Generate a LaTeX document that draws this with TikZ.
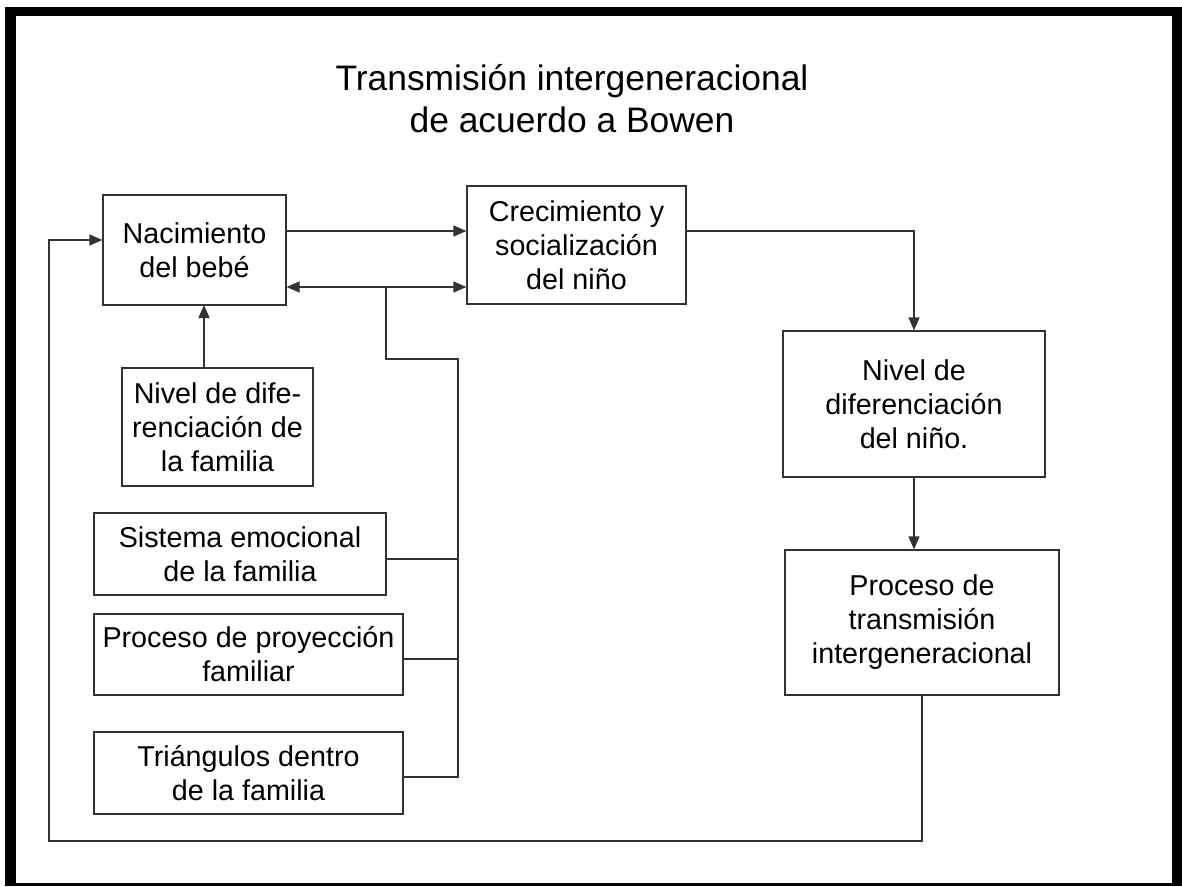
\documentclass[tikz,border=0pt]{standalone}
\usepackage{fontspec}
\setmainfont{Liberation Sans}
\usetikzlibrary{arrows.meta,calc}
\begin{document}
\begin{tikzpicture}[x=1pt,y=-1pt,
  box/.style={draw=black!80,line width=1.2pt,inner sep=0pt,align=center,
    font=\fontsize{28.7}{34}\selectfont},
  conn/.style={draw=black!80,line width=1.2pt},
  arr/.style={conn,-{Triangle[length=13pt,width=11pt]}},
  darr/.style={conn,{Triangle[length=13pt,width=11pt]}-{Triangle[length=13pt,width=11pt]}}]
\useasboundingbox (0,0) rectangle (1182,886);
\fill[white] (0,0) rectangle (1182,886);
\fill[black] (5,7) rectangle (1182,886);
\fill[white] (16,16) rectangle (1172,883);

\node[font=\fontsize{35.4}{42}\selectfont,align=center,anchor=base] (title) at (572,132)
  {Transmisión intergeneracional\\de acuerdo a Bowen};

\node[box,minimum width=183pt,minimum height=110pt] (nac) at (194.5,250) {Nacimiento\\del bebé};
\node[box,minimum width=219pt,minimum height=118pt] (cre) at (576.5,245) {Crecimiento y\\socialización\\del niño};
\node[box,minimum width=262pt,minimum height=146pt] (nivn) at (914,404) {Nivel de\\diferenciación\\del niño.};
\node[box,minimum width=274pt,minimum height=145pt] (proc) at (922,622.5) {Proceso de\\transmisión\\intergeneracional};
\node[box,minimum width=191pt,minimum height=118pt] (nivf) at (217.5,427) {Nivel de dife-\\renciación de\\la familia};
\node[box,minimum width=292pt,minimum height=82pt] (sis) at (240,554) {Sistema emocional\\de la familia};
\node[box,minimum width=309pt,minimum height=81pt] (pro) at (248.5,654.5) {Proceso de proyección\\familiar};
\node[box,minimum width=309pt,minimum height=82pt] (tri) at (248.5,773) {Triángulos dentro\\de la familia};

\coordinate (bidir) at (386,287);
\coordinate (bus) at (458,359);
\coordinate (busend) at (458,777);
\coordinate (loopx) at (49,841);

% Nacimiento -> Crecimiento
\draw[arr] (nac.east |- 0,231) -- (cre.west |- 0,231);
% bidirectional
\draw[darr] (nac.east |- bidir) -- (cre.west |- bidir);
% bus from branches
\draw[conn] (bidir) |- (bus) -- (busend) -- (tri.east |- busend);
\draw[conn] (sis.east |- 0,559) -- (bus |- 0,559);
\draw[conn] (pro.east |- 0,659) -- (bus |- 0,659);
% Nivel familia -> Nacimiento
\draw[arr] (204,368) -- (204,305);
% Crecimiento -> Nivel nino
\draw[arr] (cre.east |- 0,231) -| (nivn.north);
% Nivel nino -> Proceso
\draw[arr] (nivn.south) -- (nivn.south |- proc.north);
% feedback loop
\draw[arr] (proc.south) |- (loopx) |- (nac.west |- 0,240);
\end{tikzpicture}
\end{document}
